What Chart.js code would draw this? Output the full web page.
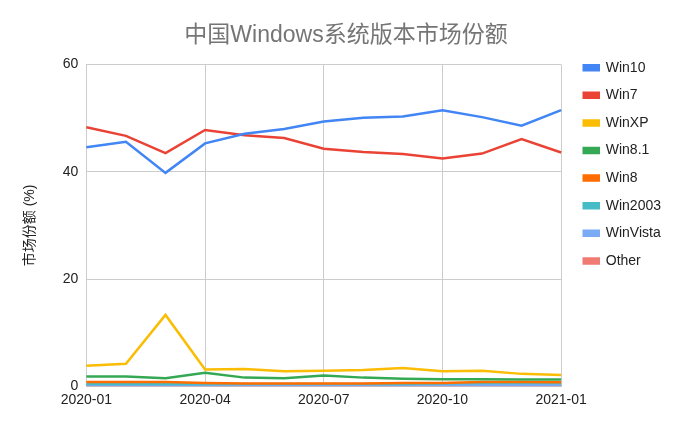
<!DOCTYPE html>
<html>
<head>
<meta charset="utf-8">
<script src="https://cdn.jsdelivr.net/npm/chart.js@4.4.0/dist/chart.umd.min.js"></script>
<style>
  html, body { margin: 0; padding: 0; background: #fff; }
  #wrap { width: 691px; height: 427px; }
</style>
</head>
<body>
<div id="wrap"><canvas id="shareChart" width="691" height="427"></canvas></div>
<script>
var months = ["2020-01", "2020-02", "2020-03", "2020-04", "2020-05", "2020-06", "2020-07",
              "2020-08", "2020-09", "2020-10", "2020-11", "2020-12", "2021-01"];
var win10    = [44.6, 45.6, 39.8, 45.3, 47.1, 48.0, 49.4, 50.1, 50.3, 51.5, 50.2, 48.6, 51.5];
var win7     = [48.3, 46.7, 43.5, 47.8, 46.8, 46.3, 44.3, 43.7, 43.3, 42.5, 43.4, 46.1, 43.6];
var winXP    = [3.8, 4.2, 13.3, 3.1, 3.2, 2.8, 2.9, 3.0, 3.4, 2.8, 2.9, 2.3, 2.1];
var win81    = [1.8, 1.8, 1.5, 2.5, 1.6, 1.5, 2.0, 1.6, 1.4, 1.3, 1.3, 1.25, 1.25];
var win8     = [0.8, 0.8, 0.8, 0.6, 0.5, 0.5, 0.5, 0.5, 0.6, 0.6, 0.8, 0.8, 0.75];
var win2003  = [0.4, 0.4, 0.4, 0.4, 0.4, 0.4, 0.4, 0.4, 0.4, 0.5, 0.6, 0.6, 0.6];
var winVista = [0.2, 0.2, 0.2, 0.2, 0.2, 0.2, 0.2, 0.2, 0.2, 0.2, 0.2, 0.2, 0.2];
var other    = [0.1, 0.1, 0.1, 0.1, 0.1, 0.1, 0.1, 0.1, 0.1, 0.1, 0.1, 0.1, 0.1];
var yTicks   = [0, 20, 40, 60];

var fontFam = "'Liberation Sans', Arial, 'Noto Sans CJK SC', sans-serif";

function series(label, data, color) {
    return {
        label: label,
        data: data,
        borderColor: color,
        backgroundColor: color,
        borderWidth: 2.5,
        pointRadius: 0,
        pointHoverRadius: 0,
        tension: 0,
        fill: false
    };
}

// nudge the legend (right, up) and the title (right) after layout
var boxNudge = {
    id: 'boxNudge',
    afterLayout: function (chart) {
        var lg = chart.legend;
        if (lg) {
            lg.left += 9; lg.right += 9;
            lg.top -= 17.5; lg.bottom -= 17.5;
        }
        var tt = chart.titleBlock;
        if (tt) { tt.left += 4; tt.right += 4; }
    }
};

var ctx = document.getElementById("shareChart");
var chart = new Chart(ctx, {
    type: 'line',
    data: {
        labels: months,
        datasets: [
            series("Win10", win10, "#4285F4"),
            series("Win7", win7, "#EA4335"),
            series("WinXP", winXP, "#FBBC04"),
            series("Win8.1", win81, "#34A853"),
            series("Win8", win8, "#FF6D01"),
            series("Win2003", win2003, "#46BDC6"),
            series("WinVista", winVista, "#7BAAF7"),
            series("Other", other, "#F07B72")
        ]
    },
    plugins: [boxNudge],
    options: {
        responsive: false,
        animation: false,
        layout: { padding: { left: 22, right: 29, top: 0, bottom: 12 } },
        plugins: {
            title: {
                display: true,
                text: "中国Windows系统版本市场份额",
                color: "#757575",
                font: { family: fontFam, size: 23, weight: 'normal' },
                padding: { top: 22, bottom: 15 }
            },
            legend: {
                position: 'right',
                align: 'start',
                fullSize: false,
                labels: {
                    color: "#222",
                    font: { family: fontFam, size: 14 },
                    boxWidth: 15,
                    boxHeight: 5,
                    padding: 13.6
                }
            },
            tooltip: { enabled: false }
        },
        scales: {
            x: {
                grid: { color: "#cccccc", drawTicks: false },
                border: { color: "#cccccc" },
                ticks: {
                    autoSkip: false,
                    maxRotation: 0,
                    color: "#222",
                    padding: 6,
                    font: { family: fontFam, size: 14 },
                    callback: function (v, i) { return i % 3 === 0 ? months[i] : null; }
                }
            },
            y: {
                min: 0,
                max: 60,
                afterBuildTicks: function (axis) {
                    axis.ticks = yTicks.map(function (v) { return { value: v }; });
                },
                grid: { color: "#cccccc", drawTicks: false },
                border: { color: "#cccccc" },
                ticks: {
                    color: "#222",
                    padding: 8,
                    font: { family: fontFam, size: 14 }
                },
                title: {
                    display: true,
                    text: "市场份额 (%)",
                    color: "#222",
                    font: { family: fontFam, size: 14 },
                    padding: { top: 0, bottom: 16 }
                }
            }
        }
    }
});
</script>
</body>
</html>
